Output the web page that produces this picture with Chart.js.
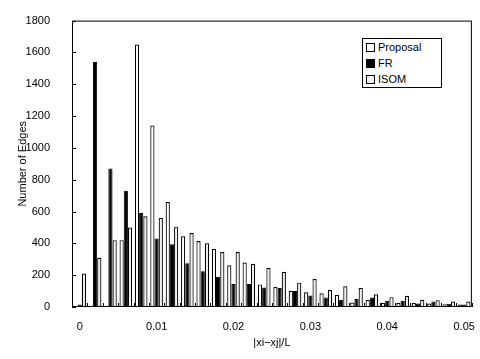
<!DOCTYPE html>
<html>
<head>
<meta charset="utf-8">
<script src="https://cdn.jsdelivr.net/npm/chart.js@4/dist/chart.umd.min.js"></script>
<style>
  body { margin: 0; background: #fff; }
  #wrap { position: relative; width: 480px; height: 359px; }
  #legend {
    position: absolute; left: 362px; top: 38px; width: 78px; height: 48px;
    border: 1px solid #000; background: #fff;
    font: 11px "Liberation Sans", Arial, sans-serif; color: #000;
  }
  #legend div { height: 15px; line-height: 15px; padding-left: 3px; margin-top: 1px; }
  #legend span { display: inline-block; width: 7px; height: 7px; border: 1px solid #000; margin-right: 3px; vertical-align: -1px; }
</style>
</head>
<body>
<div id="wrap">
  <canvas id="canvas" width="480" height="359"></canvas>
  <div id="legend">
    <div><span style="background:#fff"></span>Proposal</div>
    <div><span style="background:#000"></span>FR</div>
    <div><span style="background:#f0f0f0"></span>ISOM</div>
  </div>
</div>
<script>
// bins of |xi-xj|/L, width 0.002
const categories = ['0','0.002','0.004','0.006','0.008','0.01','0.012','0.014','0.016','0.018',
  '0.02','0.022','0.024','0.026','0.028','0.03','0.032','0.034','0.036','0.038',
  '0.04','0.042','0.044','0.046','0.048','0.05'];
const shownLabels = ['0','0.01','0.02','0.03','0.04','0.05'];

const proposal = [0, 0, 0, 420, 1650, 1140, 660, 445, 415, 365, 262, 280, 142, 125, 102, 92, 86, 76, 28, 45, 25, 25, 25, 22, 18, 15];
const fr       = [15, 1540, 870, 730, 590, 430, 395, 275, 225, 190, 145, 145, 123, 120, 100, 72, 60, 45, 50, 60, 40, 40, 22, 35, 20, 15];
const isom     = [210, 310, 420, 500, 570, 560, 505, 465, 400, 345, 345, 272, 245, 222, 153, 176, 107, 130, 120, 80, 62, 70, 45, 43, 35, 35];

const yTicks = [0, 200, 400, 600, 800, 1000, 1200, 1400, 1600, 1800];

const ctx = document.getElementById('canvas').getContext('2d');
const font = { family: '"Liberation Sans", Arial, sans-serif', size: 11 };

// plot frame and inside tick marks
const framePlugin = {
  id: 'frame',
  afterDraw(chart) {
    const c = chart.ctx, a = chart.chartArea;
    const x = chart.scales.x, y = chart.scales.y;
    c.save();
    c.strokeStyle = '#000';
    c.lineWidth = 1;
    c.strokeRect(a.left + 0.5, a.top + 0.5, a.right - a.left - 1, a.bottom - a.top - 1);
    c.beginPath();
    yTicks.forEach(v => {
      const py = Math.round(y.getPixelForValue(v)) + 0.5;
      c.moveTo(a.left, py); c.lineTo(a.left + 4, py);
    });
    for (let i = 0; i <= categories.length; i++) {
      const px = Math.round(x.getPixelForValue(i - 0.5)) + 0.5;
      c.moveTo(px, a.bottom); c.lineTo(px, a.bottom - 4);
    }
    c.stroke();
    c.restore();
  }
};

new Chart(ctx, {
  type: 'bar',
  data: {
    labels: categories,
    datasets: [
      { label: 'Proposal', data: proposal, backgroundColor: '#fff', borderColor: '#000', borderWidth: 1.2 },
      { label: 'FR', data: fr, backgroundColor: '#000', borderColor: '#000', borderWidth: 1 },
      { label: 'ISOM', data: isom, backgroundColor: '#f0f0f0', borderColor: '#000', borderWidth: 1.2 }
    ]
  },
  options: {
    responsive: false,
    animation: false,
    layout: { padding: { top: 13, right: 6, left: 0, bottom: 0 } },
    plugins: { legend: { display: false }, tooltip: { enabled: false } },
    datasets: { bar: { categoryPercentage: 0.82, barPercentage: 1 } },
    scales: {
      x: {
        grid: { display: false },
        border: { display: false },
        ticks: {
          color: '#000', font: font, padding: 5, autoSkip: false, maxRotation: 0,
          callback: function(v, i) { const l = categories[i]; return shownLabels.includes(l) ? l : ''; }
        },
        title: { display: true, text: '|xi−xj|/L', color: '#000', font: font, padding: { top: 0, bottom: 9 } },
        afterFit: s => { s.height = 52; }
      },
      y: {
        min: 0, max: 1800,
        grid: { display: false },
        border: { display: false },
        ticks: { color: '#000', font: font, stepSize: 200, padding: 14, callback: v => String(v) },
        title: { display: true, text: 'Number of Edges', color: '#000', font: font, padding: { top: 16, bottom: 0 } },
        afterFit: s => { s.width = 72; }
      }
    }
  },
  plugins: [framePlugin]
});
</script>
</body>
</html>
